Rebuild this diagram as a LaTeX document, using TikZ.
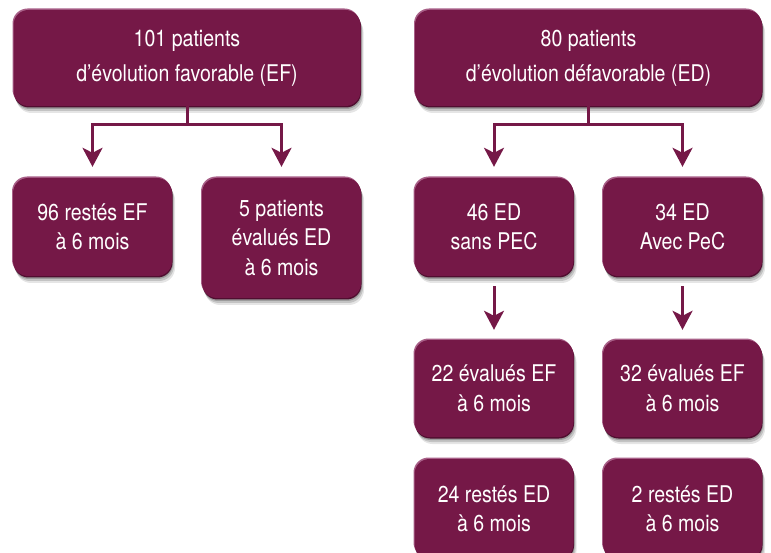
\documentclass[tikz,border=0pt]{standalone}
\usepackage{fontspec}
\setmainfont{TeX Gyre Heros}[FakeStretch=0.85]
\usetikzlibrary{shadows,arrows.meta}
\definecolor{maroon}{RGB}{117,24,71}
\definecolor{maroonlight}{RGB}{168,96,136}
\definecolor{maroondark}{RGB}{80,14,48}
\begin{document}
\begin{tikzpicture}[x=1pt,y=-1pt,
  box/.style={rounded corners=15pt, fill=maroon, text=white, align=center,
    inner sep=0pt, font=\fontsize{23}{29.5}\selectfont,
    drop shadow={shadow xshift=3pt, shadow yshift=-7pt, fill=black, opacity=0.10},
    drop shadow={shadow xshift=2pt, shadow yshift=-5pt, fill=black, opacity=0.15},
    drop shadow={shadow xshift=1pt, shadow yshift=-3pt, fill=black, opacity=0.2},
    preaction={fill=maroondark, transform canvas={shift={(0.5pt,-1.5pt)}}},
    preaction={fill=maroonlight, transform canvas={shift={(-1pt,1.5pt)}}}},
  topbox/.style={box, minimum width=347pt, minimum height=96pt,
    font=\fontsize{23}{35}\selectfont},
  smallbox/.style={box, minimum width=159pt, minimum height=98pt},
  conn/.style={draw=maroon, line width=3pt},
  arr/.style={conn, -{Stealth[length=19pt, width=20pt, inset=5pt]}}]
\useasboundingbox (0,0) rectangle (771,553);
\node[topbox] (A) at (187,58) {101 patients\\d’évolution favorable (EF)};
\node[topbox] (B) at (588.5,58) {80 patients\\d’évolution défavorable (ED)};
\node[smallbox] (C) at (92.5,227) {96 restés EF\\à 6 mois};
\node[smallbox, minimum height=120pt] (D) at (281.5,238) {5 patients\\évalués ED\\à 6 mois};
\node[smallbox] (E) at (494,227) {46 ED\\sans PEC};
\node[smallbox] (F) at (682.5,227) {34 ED\\Avec PeC};
\node[smallbox, minimum height=97pt] (G) at (494,388.5) {22 évalués EF\\à 6 mois};
\node[smallbox, minimum height=97pt] (H) at (682.5,388.5) {32 évalués EF\\à 6 mois};
\node[smallbox, minimum height=100pt] (I) at (494,509) {24 restés ED\\à 6 mois};
\node[smallbox, minimum height=100pt] (J) at (682.5,509) {2 restés ED\\à 6 mois};
\draw[conn] (A.south) -- ++(0,18) coordinate (aj);
\draw[arr, shorten >=11pt] (aj) -| (C.north);
\draw[arr, shorten >=11pt] (aj) -| (D.north);
\draw[conn] (B.south) -- ++(0,18) coordinate (bj);
\draw[arr, shorten >=11pt] (bj) -| (E.north);
\draw[arr, shorten >=11pt] (bj) -| (F.north);
\draw[arr, shorten <=10pt, shorten >=10pt] (E.south) -- (G.north);
\draw[arr, shorten <=10pt, shorten >=10pt] (F.south) -- (H.north);
\end{tikzpicture}
\end{document}
